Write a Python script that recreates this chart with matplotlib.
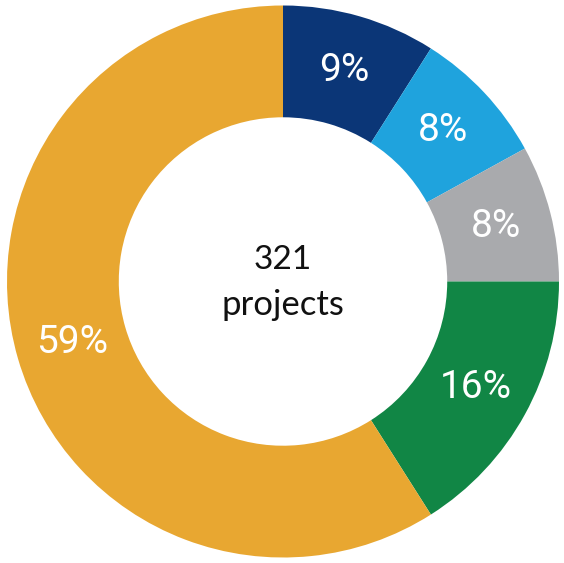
import matplotlib
matplotlib.use("Agg")
import matplotlib.pyplot as plt
import numpy as np

categories = ["A", "B", "C", "D", "E"]
values = [9, 8, 8, 16, 59]
labels = ["9%", "8%", "8%", "16%", "59%"]
colors = ["#0b3677", "#1fa3dd", "#a9aaad", "#118645", "#e8a731"]
total_label = "321"
sub_label = "projects"

fig = plt.figure(figsize=(5.64, 5.63), dpi=100)
ax = fig.add_axes([0, 0, 1, 1])
outer = 276 / 281.5
wedges, _ = ax.pie(values, colors=colors, startangle=90, counterclock=False,
                   radius=outer, wedgeprops=dict(width=outer * 0.405, linewidth=0))
cum = np.cumsum([0] + values[:-1])
for v, c, lab in zip(values, cum, labels):
    ang = np.deg2rad(90 - (c + v / 2) / 100 * 360)
    r = outer * 0.797
    ax.text(r * np.cos(ang), r * np.sin(ang), lab, ha="center", va="center",
            color="white", fontsize=28, fontweight="normal",
            family=["Roboto", "DejaVu Sans"])
ax.text(0, 0.075, total_label, ha="center", va="center", fontsize=24,
        family=["Lato", "DejaVu Sans"], color="#111111")
ax.text(0, -0.085, sub_label, ha="center", va="center", fontsize=25,
        family=["Lato", "DejaVu Sans"], color="#111111")
ax.set_xlim(-1.0053, 0.9982)
ax.set_ylim(-1.0, 1.0)
ax.set_aspect("equal")
ax.axis("off")
fig.savefig("out.png", dpi=100, facecolor="white")
